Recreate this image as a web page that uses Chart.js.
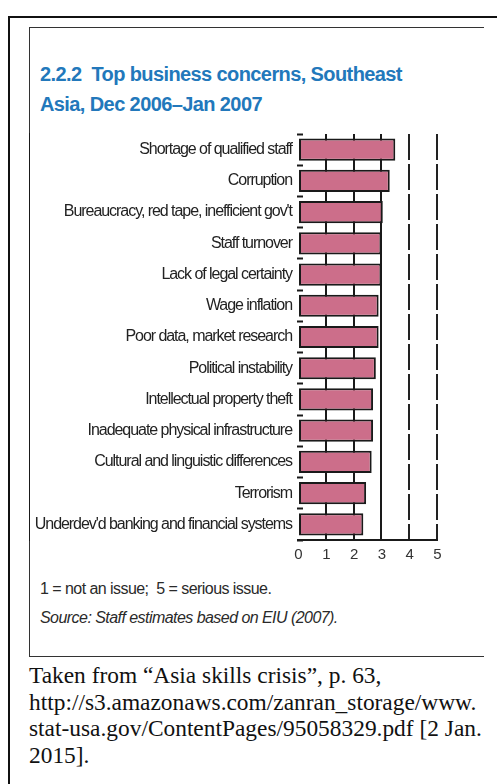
<!DOCTYPE html>
<html>
<head>
<meta charset="utf-8">
<script src="https://cdn.jsdelivr.net/npm/chart.js@4/dist/chart.umd.min.js"></script>
<style>
  html, body { margin: 0; padding: 0; background: #fff; }
  body { width: 497px; height: 784px; position: relative; overflow: hidden; }
  .outer { position: absolute; left: 8px; top: 16px; width: 520px; height: 800px; border: 2px solid #111; }
  .inner { position: absolute; left: 29px; top: 27px; width: 454px; height: 628px;
           border-left: 1.5px solid #333; border-top: 1.5px solid #333; border-bottom: 1.5px solid #333; }
  .title { position: absolute; left: 40px; top: 59px; font-family: "Liberation Sans", sans-serif;
           font-weight: bold; font-size: 20px; line-height: 30px; letter-spacing: -0.6px; color: #2278bb; }
  .note { position: absolute; left: 40px; font-family: "Liberation Sans", sans-serif;
          font-size: 16px; color: #2a2a2a; letter-spacing: -0.55px; }
  .caption { position: absolute; left: 29px; top: 662px; font-family: "Liberation Serif", "Times New Roman", serif;
             font-size: 23.4px; line-height: 26.7px; color: #111; white-space: nowrap; }
  #chart { position: absolute; left: 29px; top: 120px; }
</style>
</head>
<body>
<div class="outer"></div>
<div class="inner"></div>
<div class="title">2.2.2&nbsp; Top business concerns, Southeast<br>Asia, Dec 2006–Jan 2007</div>
<canvas id="chart" width="454" height="450"></canvas>
<div class="note" style="top:580px">1 = not an issue;&nbsp; 5 = serious issue.</div>
<div class="note" style="top:609px;font-style:italic">Source: Staff estimates based on EIU (2007).</div>
<div class="caption">Taken from “Asia skills crisis”, p. 63,<br>http://s3.amazonaws.com/zanran_storage/www.<br>stat-usa.gov/ContentPages/95058329.pdf [2 Jan.<br>2015].</div>
<script>
const concerns = [
  'Shortage of qualified staff',
  'Corruption',
  "Bureaucracy, red tape, inefficient gov't",
  'Staff turnover',
  'Lack of legal certainty',
  'Wage inflation',
  'Poor data, market research',
  'Political instability',
  'Intellectual property theft',
  'Inadequate physical infrastructure',
  'Cultural and linguistic differences',
  'Terrorism',
  "Underdev'd banking and financial systems"
];
const scores = [3.5, 3.3, 3.05, 3.0, 3.0, 2.9, 2.9, 2.8, 2.7, 2.7, 2.65, 2.45, 2.35];
const scaleTicks = [0, 1, 2, 3, 4, 5];

// condensed look for the axis labels
const squeeze = {
  id: 'squeeze',
  beforeDraw(chart) { chart.ctx.letterSpacing = '-1.05px'; },
  afterDraw(chart) { chart.ctx.letterSpacing = '0px'; }
};

const ctx = document.getElementById('chart').getContext('2d');
window.myBar = new Chart(ctx, {
  type: 'bar',
  data: {
    labels: concerns,
    datasets: [{
      label: 'Concern',
      data: scores,
      backgroundColor: '#cc6e8a',
      borderColor: '#1a1a1a',
      borderWidth: 2,
      borderSkipped: false,
      barPercentage: 0.71,
      categoryPercentage: 1.0,
      xAxisID: 'x'
    }]
  },
  options: {
    indexAxis: 'y',
    responsive: false,
    devicePixelRatio: 1,
    animation: false,
    layout: { padding: { top: 14, right: 46, left: 0, bottom: 0 } },
    plugins: {
      legend: { display: false },
      tooltip: { enabled: false }
    },
    scales: {
      x: {
        type: 'linear',
        position: 'bottom',
        min: 0,
        max: 5,
        afterBuildTicks: (axis) => { axis.ticks = scaleTicks.map(v => ({ value: v })); },
        afterFit: (axis) => { axis.height = 30; },
        grid: {
          drawTicks: false,
          lineWidth: 2,
          color: (c) => (c.tick && c.tick.value > 0 && c.tick.value < 4) ? '#1a1a1a' : 'rgba(0,0,0,0)'
        },
        border: { display: true, color: '#1a1a1a', width: 2 },
        ticks: {
          padding: 6,
          color: '#333',
          font: { family: 'Liberation Sans', size: 15 }
        }
      },
      x2: {
        type: 'linear',
        position: 'top',
        min: 0,
        max: 5,
        afterBuildTicks: (axis) => { axis.ticks = scaleTicks.map(v => ({ value: v })); },
        afterFit: (axis) => { axis.height = 0; },
        grid: {
          drawTicks: false,
          lineWidth: 2,
          color: (c) => (c.tick && c.tick.value >= 4) ? '#222' : 'rgba(0,0,0,0)'
        },
        border: { display: false, dash: [26, 4] },
        ticks: { display: false }
      },
      y: {
        afterFit: (axis) => {
          axis.width = 269;
          axis.paddingTop = 0;
          axis.paddingBottom = 0;
        },
        grid: {
          drawOnChartArea: false,
          drawTicks: true,
          tickLength: -5,
          tickWidth: 2,
          tickColor: '#1a1a1a',
          z: 1
        },
        border: { display: true, color: '#1a1a1a', width: 2 },
        ticks: {
          padding: 11,
          color: '#222',
          font: { family: 'Liberation Sans', size: 16 }
        }
      }
    }
  },
  plugins: [squeeze]
});
</script>
</body>
</html>
